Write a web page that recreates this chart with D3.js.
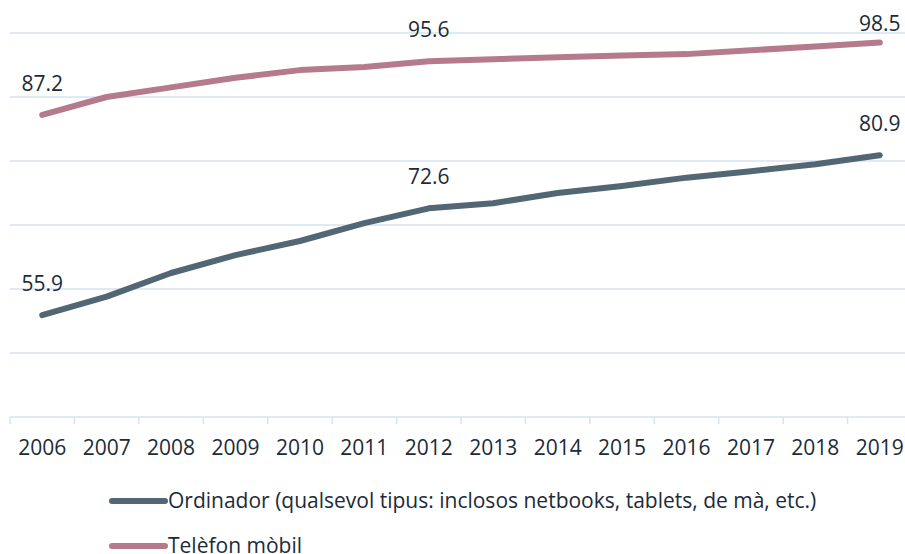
<!DOCTYPE html>
<html>
<head>
<meta charset="utf-8">
<script src="https://cdn.jsdelivr.net/npm/d3@7"></script>
<style>
  body { margin: 0; background: #fff; }
  text { font-family: "Open Sans", sans-serif; fill: #1c2b39; }
</style>
</head>
<body>
<svg id="chart" width="905" height="554"></svg>
<script>
const years = [2006, 2007, 2008, 2009, 2010, 2011, 2012, 2013, 2014, 2015, 2016, 2017, 2018, 2019];
const ordinador = [55.9, 58.8, 62.5, 65.3, 67.5, 70.3, 72.6, 73.4, 75.0, 76.1, 77.4, 78.4, 79.5, 80.9];
const telefon = [87.2, 90.0, 91.5, 93.0, 94.2, 94.7, 95.6, 95.9, 96.2, 96.5, 96.7, 97.3, 97.9, 98.5];
const labelledYears = [2006, 2012, 2019];
const gridValues = [50, 60, 70, 80, 90, 100];

const series = [
    { name: "Ordinador (qualsevol tipus: inclosos netbooks, tablets, de mà, etc.)", values: ordinador, color: "#526773" },
    { name: "Telèfon mòbil", values: telefon, color: "#b57b8c" }
];

const svg = d3.select("#chart");

const x = d3.scaleBand().domain(years).range([10, 912]).padding(0);
const y = d3.scaleLinear().domain([40, 100]).range([417, 33]);
const cx = d => x(d) + x.bandwidth() / 2;

// gridlines
svg.append("g")
    .selectAll("line")
    .data(gridValues)
    .enter()
    .append("line")
    .attr("x1", 10)
    .attr("x2", 905)
    .attr("y1", d => y(d))
    .attr("y2", d => y(d))
    .attr("stroke", "#d5e5f1")
    .attr("stroke-width", 1.5);

// x axis
const axis = svg.append("g").attr("transform", `translate(0,${y(40)})`);
axis.append("line")
    .attr("x1", 10).attr("x2", 905)
    .attr("stroke", "#d5e5f1").attr("stroke-width", 1.5);
axis.selectAll(".tick-mark")
    .data(years)
    .enter()
    .append("line")
    .attr("x1", d => x(d))
    .attr("x2", d => x(d))
    .attr("y1", 0)
    .attr("y2", 7)
    .attr("stroke", "#d5e5f1")
    .attr("stroke-width", 1.5);
axis.selectAll(".year")
    .data(years)
    .enter()
    .append("text")
    .attr("x", d => cx(d))
    .attr("y", 38)
    .attr("text-anchor", "middle")
    .attr("font-size", 21)
    .text(d => d);

// lines
const line = d3.line()
    .x((d, i) => cx(years[i]))
    .y(d => y(d));

svg.append("g")
    .selectAll("path")
    .data(series)
    .enter()
    .append("path")
    .attr("d", d => line(d.values))
    .attr("fill", "none")
    .attr("stroke", d => d.color)
    .attr("stroke-width", 6)
    .attr("stroke-linecap", "round")
    .attr("stroke-linejoin", "round");

// data labels (kept inside the top of the chart like Excel does)
series.forEach(s => {
    svg.append("g")
        .selectAll("text")
        .data(labelledYears)
        .enter()
        .append("text")
        .attr("x", d => cx(d))
        .attr("y", d => Math.max(y(s.values[years.indexOf(d)]) - 24, 31))
        .attr("text-anchor", "middle")
        .attr("font-size", 21)
        .text(d => s.values[years.indexOf(d)].toFixed(1));
});

// legend
const legend = svg.append("g")
    .selectAll("g")
    .data(series)
    .enter()
    .append("g")
    .attr("transform", (d, i) => `translate(112,${501 + i * 45})`);

legend.append("line")
    .attr("x1", 0).attr("x2", 53)
    .attr("stroke", d => d.color)
    .attr("stroke-width", 6)
    .attr("stroke-linecap", "round");

legend.append("text")
    .attr("x", 56)
    .attr("y", 7)
    .attr("font-size", 21)
    .text(d => d.name);
</script>
</body>
</html>
